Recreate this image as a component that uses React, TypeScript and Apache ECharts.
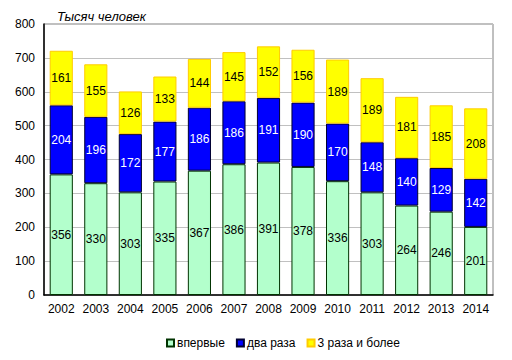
import React, { useEffect, useRef } from "react";
import * as echarts from "echarts";

const years = ["2002","2003","2004","2005","2006","2007","2008","2009","2010","2011","2012","2013","2014"];
const first = [356,330,303,335,367,386,391,378,336,303,264,246,201];
const twice = [204,196,172,177,186,186,191,190,170,148,140,129,142];
const threePlus = [161,155,126,133,144,145,152,156,189,189,181,185,208];
const yTicks = [0, 100, 200, 300, 400, 500, 600, 700, 800];

export default function App() {
  const ref = useRef<HTMLDivElement>(null);
  useEffect(() => {
    const chart = echarts.init(ref.current!, null, { renderer: "svg" });
    const font = "Liberation Sans, Arial, sans-serif";
    const lbl = (color: string) => ({
      show: true,
      position: "inside" as const,
      color,
      fontSize: 12,
      fontFamily: font,
    });
    chart.setOption({
      animation: false,
      backgroundColor: "#ffffff",
      title: {
        text: "Тысяч человек",
        left: 52,
        top: 5,
        textStyle: { fontSize: 13, fontStyle: "italic", fontWeight: "normal", fontFamily: font, color: "#000" },
      },
      grid: { left: 44, right: 19, top: 24, bottom: 65, show: true, borderColor: "#808080", borderWidth: 1 },
      legend: {
        bottom: 6,
        left: 161,
        itemWidth: 7,
        itemHeight: 7,
        itemGap: 11,
        icon: "rect",
        textStyle: { fontSize: 12, fontFamily: font, color: "#000", padding: [0, 0, 0, -2] },
        data: ["впервые", "два раза", "3 раза и более"],
      },
      xAxis: {
        type: "category",
        data: years,
        axisLine: { lineStyle: { color: "#000", width: 1.5 } },
        axisTick: { show: false },
        axisLabel: { fontSize: 12, fontFamily: font, color: "#000", margin: 8, interval: 0 },
      },
      yAxis: {
        type: "value",
        min: yTicks[0],
        max: yTicks[yTicks.length - 1],
        interval: 100,
        axisLine: { show: true, lineStyle: { color: "#000", width: 1.5 } },
        axisTick: { show: false },
        axisLabel: { fontSize: 12, fontFamily: font, color: "#000", margin: 9 },
        splitLine: { lineStyle: { color: "#c0c0c0", width: 1 } },
      },
      series: [
        {
          name: "впервые",
          type: "bar",
          stack: "t",
          data: first,
          barWidth: "67%",
          itemStyle: { color: "#b3ffcc", borderColor: "#003300", borderWidth: 1 },
          label: lbl("#000"),
        },
        {
          name: "два раза",
          type: "bar",
          stack: "t",
          data: twice,
          itemStyle: { color: "#0000ff", borderColor: "#000033", borderWidth: 1 },
          label: lbl("#ffffff"),
        },
        {
          name: "3 раза и более",
          type: "bar",
          stack: "t",
          data: threePlus,
          itemStyle: { color: "#ffff00", borderColor: "#ffcc00", borderWidth: 1 },
          label: lbl("#000"),
        },
      ],
    });
    return () => chart.dispose();
  }, []);
  return <div ref={ref} style={{ width: 512, height: 360, position: "absolute", left: 0, top: 0 }} />;
}
